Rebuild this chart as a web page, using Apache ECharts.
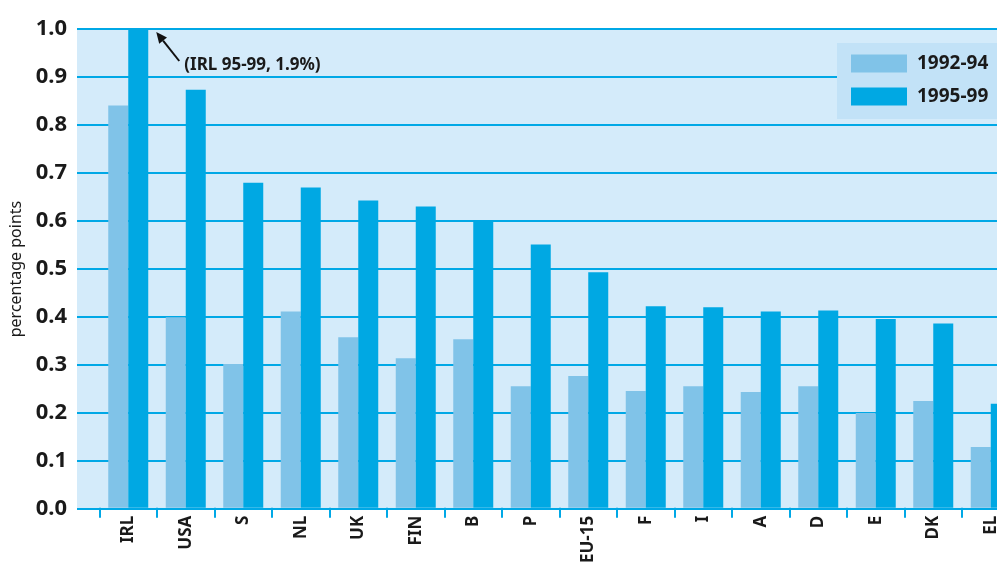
<!DOCTYPE html>
<html>
<head>
<meta charset="utf-8">
<script src="https://cdn.jsdelivr.net/npm/echarts@6/dist/echarts.min.js"></script>
<style>
html,body{margin:0;padding:0;overflow:hidden;background:#fff;}
#c{width:1045px;height:566px;}
</style>
</head>
<body>
<div id="c"></div>
<script>
const categories = ['IRL','USA','S','NL','UK','FIN','B','P','EU-15','F','I','A','D','E','DK','EL'];
const values9294 = [0.84,0.398,0.30,0.41,0.356,0.312,0.352,0.254,0.275,0.244,0.254,0.242,0.254,0.198,0.223,0.127];
const values9599 = [1.0,0.873,0.679,0.669,0.642,0.629,0.60,0.55,0.492,0.421,0.419,0.41,0.412,0.394,0.385,0.217];
const seriesNames = ['1992-94','1995-99'];
const yTicks = {min:0, max:1, interval:0.1};
const annotationText = '(IRL 95-99, 1.9%)';

const FONT = '"Noto Sans", "Open Sans", sans-serif';
const chart = echarts.init(document.getElementById('c'), null, {renderer:'canvas'});
const option = {
  animation:false,
  textStyle:{fontFamily:FONT},
  grid:[
    {left:77, right:4, top:29, bottom:57, show:true, backgroundColor:'#d4ebfa', borderWidth:0},
    {left:99.5, right:25.5, top:29, bottom:57}
  ],
  legend:{
    data:seriesNames,
    left:837, top:43,
    orient:'vertical',
    backgroundColor:'#c2e2f7',
    padding:[11,40,13,14],
    itemWidth:56, itemHeight:18, itemGap:14,
    icon:'rect',
    textStyle:{fontSize:19, fontWeight:'bold', color:'#1a1a1a', fontFamily:FONT, padding:[0,0,0,5]}
  },
  xAxis:[
    {gridIndex:0, type:'value', show:false, min:0, max:1},
    {gridIndex:1, type:'category', data:categories, offset:4,
     axisLine:{show:false},
     axisTick:{show:true, length:10, alignWithLabel:false, lineStyle:{color:'#00a8e6', width:2}},
     axisLabel:{rotate:90, margin:4, fontSize:17, fontWeight:'bold', color:'#1a1a1a', fontFamily:FONT, interval:0}
    }
  ],
  yAxis:[
    {gridIndex:0, type:'value', min:yTicks.min, max:yTicks.max, interval:yTicks.interval,
     name:'percentage points', nameLocation:'middle', nameGap:51,
     nameTextStyle:{fontSize:16, color:'#1a1a1a', fontFamily:FONT},
     axisLine:{show:false}, axisTick:{show:false},
     axisLabel:{margin:10, fontSize:22, fontWeight:'bold', color:'#1a1a1a', fontFamily:FONT,
       formatter:v=>v.toFixed(1)},
     splitLine:{show:true, lineStyle:{color:'#00a8e6', width:2}}
    },
    {gridIndex:1, type:'value', min:yTicks.min, max:yTicks.max, interval:yTicks.interval, show:false,
     splitLine:{show:false}}
  ],
  series:[
    {name:seriesNames[0], type:'bar', xAxisIndex:1, yAxisIndex:1, data:values9294,
     barWidth:20, barGap:'0%', itemStyle:{color:'#80c3e8'}},
    {name:seriesNames[1], type:'bar', xAxisIndex:1, yAxisIndex:1, data:values9599,
     barWidth:20, barGap:'0%', itemStyle:{color:'#00a8e3'}}
  ]
};
chart.setOption(option);

// annotation anchored to the IRL 1995-99 bar
const p = chart.convertToPixel({xAxisIndex:1, yAxisIndex:1}, [categories[0], values9599[0]]);
const tip = [p[0]+28, p[1]+3];
const tail = [p[0]+51, p[1]+32];
const dx = tip[0]-tail[0], dy = tip[1]-tail[1];
const L = Math.hypot(dx,dy), ux = dx/L, uy = dy/L;
const hl = 11, hw = 5;
const base = [tip[0]-ux*hl, tip[1]-uy*hl];
const head = [tip, [base[0]-uy*hw, base[1]+ux*hw], [base[0]+uy*hw, base[1]-ux*hw]];
chart.setOption({
  graphic:[
    {type:'line', shape:{x1:tail[0], y1:tail[1], x2:base[0], y2:base[1]}, style:{stroke:'#111', lineWidth:2}, z:100},
    {type:'polygon', shape:{points:head}, style:{fill:'#111'}, z:100},
    {type:'text', x:p[0]+56, y:p[1]+36, style:{text:annotationText, font:'bold 17px '+FONT, fill:'#1a1a1a', verticalAlign:'middle', align:'left'}, z:100}
  ]
});
</script>
</body>
</html>
